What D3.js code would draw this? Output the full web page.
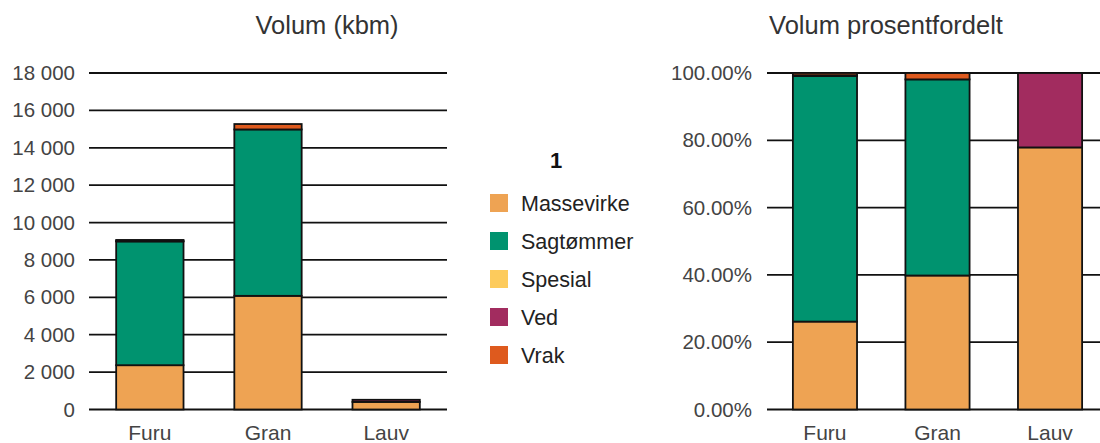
<!DOCTYPE html>
<html>
<head>
<meta charset="utf-8">
<script src="https://cdn.jsdelivr.net/npm/d3@7"></script>
<style>
  html, body { margin: 0; padding: 0; background: #fff; }
  svg { display: block; font-family: "Liberation Sans", Arial, sans-serif; }
</style>
</head>
<body>
<svg id="chart" width="1100" height="443"></svg>
<script>
// ---- data ----
const categories = ["Furu", "Gran", "Lauv"];
const seriesNames = ["Massevirke", "Sagtømmer", "Spesial", "Ved", "Vrak"];
const massevirke = [2370, 6080, 405];
const sagtommer  = [6620, 8900, 0];
const spesial    = [0, 0, 0];
const ved        = [20, 0, 115];
const vrak       = [60, 290, 0];
const volumTicks = [0, 2000, 4000, 6000, 8000, 10000, 12000, 14000, 16000, 18000];
const pctTicks   = [0, 0.2, 0.4, 0.6, 0.8, 1.0];
const colors = ["#eea353", "#00936f", "#fdcb5c", "#a22c5f", "#de5a1e"];
const legendTitle = "1";
const titleLeft = "Volum (kbm)";
const titleRight = "Volum prosentfordelt";

const seriesValues = [massevirke, sagtommer, spesial, ved, vrak];
const rows = categories.map((c, i) => {
  const r = { cat: c };
  seriesNames.forEach((s, k) => r[s] = seriesValues[k][i]);
  return r;
});
const totals = rows.map(r => d3.sum(seriesNames, s => r[s]));
const pctRows = rows.map((r, i) => {
  const p = { cat: r.cat };
  seriesNames.forEach(s => p[s] = r[s] / totals[i]);
  return p;
});

const svg = d3.select("#chart");
const color = d3.scaleOrdinal().domain(seriesNames).range(colors);
const stack = d3.stack().keys(seriesNames);
const fmtNum = v => d3.format(",")(v).replace(/,/g, " ");
const fmtPct = d3.format(".2%");

function panel(data, xRange, yDomain, ticks, fmt, title, titleX, labelRight) {
  const x = d3.scaleBand().domain(categories).range(xRange).paddingInner(0.43).paddingOuter(0.23);
  const y = d3.scaleLinear().domain(yDomain).range([409.5, 73]);
  const g = svg.append("g");

  // gridlines
  g.selectAll("line.grid").data(ticks).join("line")
    .attr("x1", xRange[0]).attr("x2", xRange[1])
    .attr("y1", d => y(d)).attr("y2", d => y(d))
    .attr("stroke", "#111").attr("stroke-width", 1.8);

  // tick labels
  const yAxis = d3.axisLeft(y).tickValues(ticks).tickFormat(fmt).tickSize(0).tickPadding(0);
  const ya = g.append("g").attr("transform", `translate(${labelRight},0)`).call(yAxis);
  ya.select(".domain").remove();
  ya.selectAll("text").attr("font-size", 20.5).attr("fill", "#444")
    .attr("font-family", "Liberation Sans, Arial, sans-serif");

  // bars
  const st = stack(data);
  st.forEach(layer => {
    g.append("g").selectAll("rect")
      .data(layer.filter(d => d[1] - d[0] > 0))
      .join("rect")
      .attr("x", d => x(d.data.cat))
      .attr("width", x.bandwidth())
      .attr("y", d => y(d[1]))
      .attr("height", d => y(d[0]) - y(d[1]))
      .attr("fill", color(layer.key))
      .attr("stroke", "#111").attr("stroke-width", 1.8);
  });

  // x labels
  const xAxis = d3.axisBottom(x).tickSize(0).tickPadding(0);
  const xa = g.append("g").attr("transform", "translate(0,440)").call(xAxis);
  xa.select(".domain").remove();
  xa.selectAll("text").attr("font-size", 21).attr("fill", "#444").attr("dy", 0)
    .attr("font-family", "Liberation Sans, Arial, sans-serif");

  // title
  g.append("text").attr("x", titleX).attr("y", 34).attr("text-anchor", "middle")
    .attr("font-size", 25.5).attr("fill", "#333").text(title);
}

panel(rows, [89, 447], [0, 18000], volumTicks, fmtNum, titleLeft, 327, 75);
panel(pctRows, [767, 1108], [0, 1], pctTicks, fmtPct, titleRight, 886, 752);

// legend
const lg = svg.append("g");
lg.append("text").attr("x", 556).attr("y", 168).attr("text-anchor", "middle")
  .attr("font-size", 22).attr("font-weight", "bold").attr("fill", "#111").text(legendTitle);
const item = lg.selectAll("g.item").data(seriesNames).join("g")
  .attr("transform", (d, i) => `translate(490,${203 + i * 38})`);
item.append("rect").attr("x", 0).attr("y", -9).attr("width", 18).attr("height", 18)
  .attr("fill", d => color(d));
item.append("text").attr("x", 31).attr("y", 0).attr("dy", "0.35em")
  .attr("font-size", 21.5).attr("fill", "#222").text(d => d);
</script>
</body>
</html>
